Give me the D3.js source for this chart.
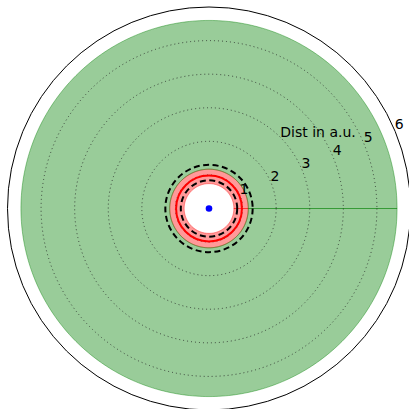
<!DOCTYPE html>
<html>
<head>
<meta charset="utf-8">
<script src="https://cdn.jsdelivr.net/npm/d3@7"></script>
<style>
  body { margin: 0; background: #fff; }
  text { font-family: "DejaVu Sans", sans-serif; }
</style>
</head>
<body>
<div id="chart"></div>
<script>
// datos del gráfico (distancias en a.u.)
const rTicks = [1, 2, 3, 4, 5, 6];
const rMax = 6;
const zoneNames = ["inner", "outer"];
const zoneInner = [0.74, 1.17];
const zoneOuter = [1.17, 5.6];
const zoneColors = ["red", "green"];
const orbitRadius = [0.98];
const dashedRadius = [0.84, 1.3];
const rLabel = "Dist in a.u.";

const width = 409, height = 409;
const cx = 209, cy = 208.5;

const svg = d3.select("#chart")
    .append("svg")
    .attr("width", width)
    .attr("height", height)
    .append("g")
    .attr("transform", `translate(${cx},${cy})`);

const r = d3.scaleLinear().domain([0, rMax]).range([0, 201.5]);

// theta en convención matplotlib (0 = este, antihorario)
const thetas = d3.range(0, 361).map(d => d * Math.PI / 180);
const radial = d3.lineRadial()
    .angle(d => Math.PI / 2 - d.t)
    .radius(d => r(d.r));

// zonas rellenas
zoneNames.forEach((name, i) => {
    const pts = thetas.map(t => ({ t: t, r: zoneOuter[i] }))
        .concat(thetas.slice().reverse().map(t => ({ t: t, r: zoneInner[i] })));
    svg.append("path")
        .attr("d", radial(pts) + "Z")
        .attr("fill", zoneColors[i])
        .attr("fill-opacity", 0.4)
        .attr("stroke", zoneColors[i])
        .attr("stroke-opacity", 0.4)
        .attr("stroke-width", 1);
});

// rejilla radial punteada
svg.selectAll(".grid")
    .data(rTicks.filter(d => d < rMax))
    .enter()
    .append("circle")
    .attr("r", d => r(d))
    .attr("fill", "none")
    .attr("stroke", "#222")
    .attr("stroke-width", 0.8)
    .attr("stroke-dasharray", "1,3");

// órbita
svg.selectAll(".orbit")
    .data(orbitRadius)
    .enter()
    .append("circle")
    .attr("r", d => r(d))
    .attr("fill", "none")
    .attr("stroke", "red")
    .attr("stroke-width", 2);

// límites discontinuos
svg.selectAll(".dashed")
    .data(dashedRadius)
    .enter()
    .append("circle")
    .attr("r", d => r(d))
    .attr("fill", "none")
    .attr("stroke", "black")
    .attr("stroke-width", 2)
    .attr("stroke-dasharray", "6,3.5");

// estrella
svg.append("circle")
    .attr("r", 3.3)
    .attr("fill", "blue");

// borde exterior
svg.append("circle")
    .attr("r", r(rMax))
    .attr("fill", "none")
    .attr("stroke", "black")
    .attr("stroke-width", 1);

// etiquetas radiales a 22.5 grados
const labelAngle = 22.5 * Math.PI / 180;
svg.selectAll(".rlabel")
    .data(rTicks)
    .enter()
    .append("text")
    .attr("x", d => r(d) * Math.cos(labelAngle) + 4)
    .attr("y", d => -r(d) * Math.sin(labelAngle) - 7)
    .attr("text-anchor", "middle")
    .attr("dominant-baseline", "central")
    .style("font-size", "14px")
    .text(d => d);

svg.append("text")
    .attr("x", 318 - cx)
    .attr("y", 137.3 - cy)
    .attr("text-anchor", "middle")
    .style("font-size", "14px")
    .text(rLabel);
</script>
</body>
</html>
